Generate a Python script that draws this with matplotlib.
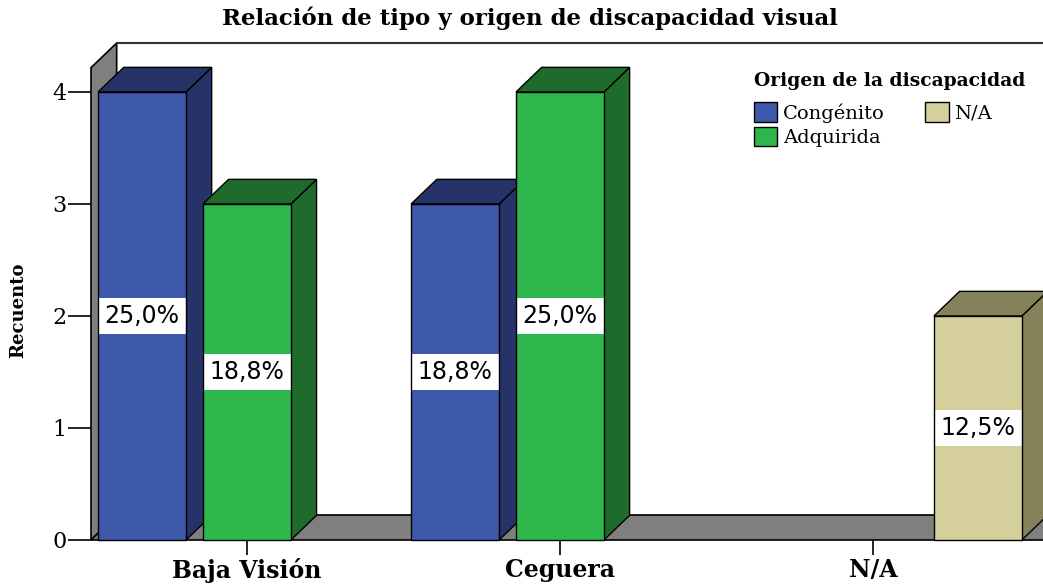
import numpy as np
import matplotlib.pyplot as plt
from matplotlib.patches import Polygon, Rectangle, Patch

# datos
tipos = ['Baja Visión', 'Ceguera', 'N/A']
origenes = ['Congénito', 'Adquirida', 'N/A']
congenito = [4, 3, 0]
adquirida = [3, 4, 0]
no_aplica = [0, 0, 2]

series = [congenito, adquirida, no_aplica]
total = sum(sum(s) for s in series)

# colores (frente, lado)
col_frente = ['#3D57A9', '#2EB84B', '#D5CF9C']
col_lado = ['#253368', '#1F6B2B', '#858159']
gris = '#7F7F7F'

serif = 'DejaVu Serif'

fig = plt.figure(figsize=(10.43, 5.85), dpi=100)
ax = fig.add_axes([91/1043, 45/585, 952/1043, 497/585])
xl, xr = -0.498, 2.543
ytop = 4.4375
ax.set_xlim(xl, xr)
ax.set_ylim(0, ytop)
for s in ax.spines.values():
    s.set_visible(False)

dx, dy = 0.082, 0.22   # profundidad
w = 0.281             # ancho de barra
sep = 0.335           # separacion entre barras del grupo

# paredes y suelo
ax.add_patch(Polygon([(xl, 0), (xl + dx, dy), (xl + dx, ytop), (xl, ytop - dy)],
                     closed=True, fc=gris, ec='black', lw=1.2, clip_on=False))
ax.add_patch(Polygon([(xl, 0), (xr + 1, 0), (xr + 1, dy), (xl + dx, dy)],
                     closed=True, fc=gris, ec='black', lw=1.2, clip_on=False))
ax.plot([xl + dx, xr + 1], [ytop, ytop], color='#333333', lw=1.5, clip_on=False)


def barra3d(x, h, c1, c2, etiqueta):
    x0, x1 = x - w / 2, x + w / 2
    ax.add_patch(Polygon([(x1, 0), (x1 + dx, dy), (x1 + dx, h + dy), (x1, h)],
                         closed=True, fc=c2, ec='black', lw=1, clip_on=False))
    ax.add_patch(Polygon([(x0, h), (x1, h), (x1 + dx, h + dy), (x0 + dx, h + dy)],
                         closed=True, fc=c2, ec='black', lw=1, clip_on=False))
    ax.add_patch(Rectangle((x0, 0), w, h, fc=c1, ec='none', clip_on=False))
    ax.add_patch(Rectangle((x0, h / 2 - 0.16), w, 0.32, fc='white', ec='none',
                           clip_on=False))
    ax.add_patch(Rectangle((x0, 0), w, h, fc='none', ec='black', lw=1,
                           clip_on=False))
    ax.text(x, h / 2, etiqueta, ha='center', va='center', fontsize=17,
            family='DejaVu Sans', color='black')


xs = np.arange(len(tipos))
for j, s in enumerate(series):
    for i, h in enumerate(s):
        if h == 0:
            continue
        pct = f'{100 * h / total:.1f}%'.replace('.', ',')
        barra3d(xs[i] + (j - 1) * sep, h, col_frente[j], col_lado[j], pct)

ax.set_yticks([0, 1, 2, 3, 4])
ax.set_yticklabels(['0', '1', '2', '3', '4'], family=serif, fontsize=16)
ax.tick_params(axis='y', length=16.5, width=1.2, pad=1)
ax.set_xticks(xs)
ax.set_xticklabels(tipos, family=serif, fontsize=17, fontweight='bold')
ax.tick_params(axis='x', length=11, width=1.2, pad=2)

fig.text(18/1043, 1 - 310/585, 'Recuento', rotation=90, ha='center',
         va='center', family=serif, fontsize=13, fontweight='bold')
fig.text(530/1043, 1 - 18/585, 'Relación de tipo y origen de discapacidad visual',
         ha='center', va='center', family=serif, fontsize=16.5, fontweight='bold')

handles = [Patch(fc=col_frente[j], ec='black', lw=1) for j in range(3)]
leg = fig.legend(handles, origenes, ncol=2, loc='upper left',
                 bbox_to_anchor=(740/1043, 1 - 58/585), frameon=False,
                 prop={'family': serif, 'size': 14},
                 title='Origen de la discapacidad',
                 title_fontproperties={'family': serif, 'size': 13.5, 'weight': 'bold'},
                 handlelength=1.2, handleheight=1.2, handletextpad=0.3,
                 columnspacing=2.1, labelspacing=0.2, borderpad=0.2)
leg._legend_box.align = 'left'
leg._legend_box.sep = 9

fig.savefig('out.png', dpi=100)
